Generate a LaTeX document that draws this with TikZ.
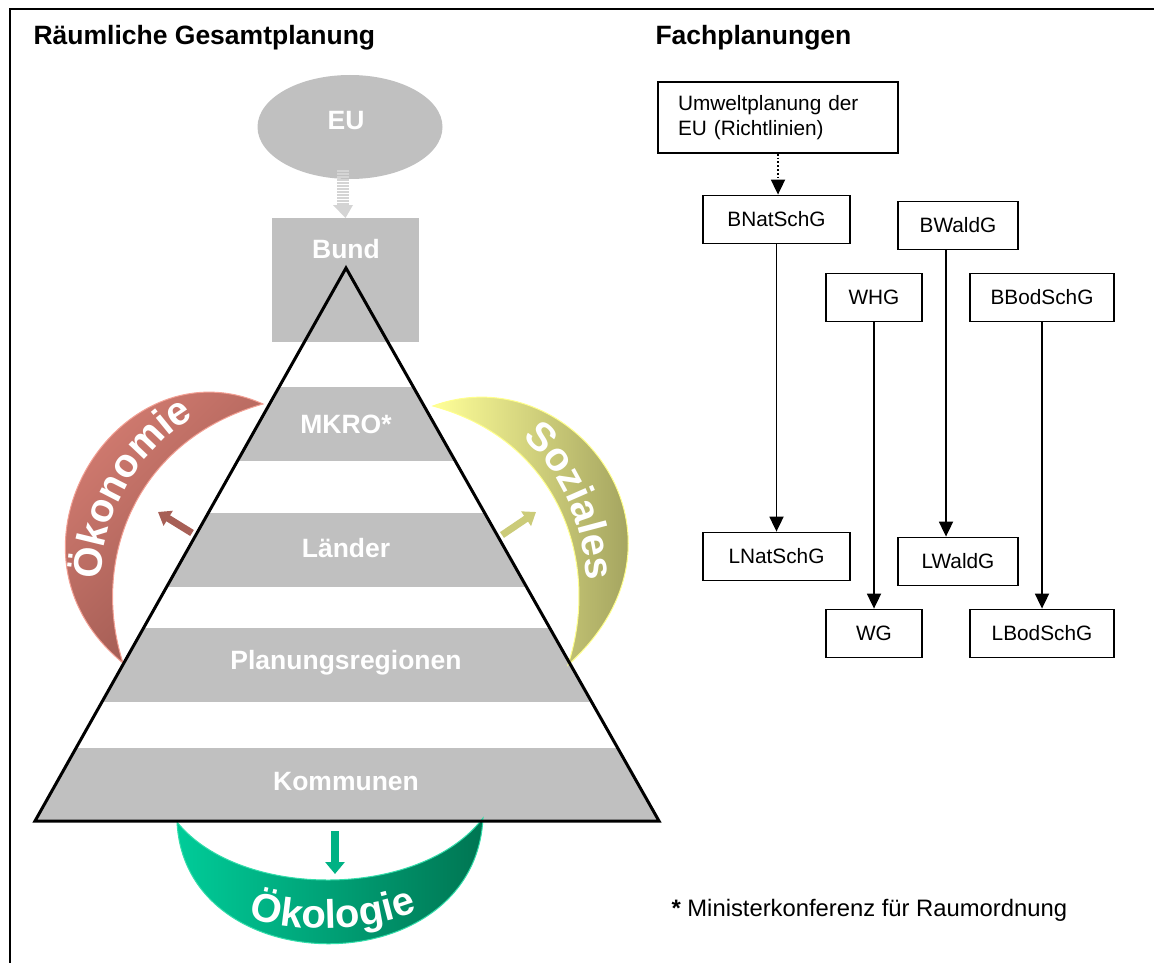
\documentclass[tikz,border=0pt]{standalone}
\usepackage{fontspec}
\setmainfont{Liberation Sans}
\usetikzlibrary{arrows.meta,decorations.text,shapes.geometric}

\definecolor{grau}{HTML}{C0C0C0}
\definecolor{streifgrau}{HTML}{D4D4D4}
\definecolor{oekoHell}{HTML}{E4877B}
\definecolor{oekoDunkel}{HTML}{9C5850}
\definecolor{oekoRand}{HTML}{F2A094}
\definecolor{sozHell}{HTML}{FFFF99}
\definecolor{sozDunkel}{HTML}{7E7E48}
\definecolor{sozRand}{HTML}{FFFF8C}
\definecolor{oekolHell}{HTML}{00CC99}
\definecolor{oekolDunkel}{HTML}{007552}
\definecolor{oekolRand}{HTML}{33DDAA}

\newcommand\bogenfont{\color{white}\bfseries\fontsize{40}{40}\selectfont}

\tikzset{
  gesetz/.style={draw,line width=1.8pt,minimum height=48pt,inner sep=0pt,font=\fontsize{20.8}{25}\selectfont},
  stufe/.style={text=white,font=\bfseries\fontsize{26.5}{30}\selectfont},
  titel/.style={anchor=west,font=\bfseries\fontsize{26.5}{30}\selectfont},
  pfeil/.style={-{Triangle[width=14pt,length=15pt]},line width=1.8pt},
  dickpfeil/.style={line width=7pt,-{Triangle[width=17pt,length=12pt]}},
  bogentext/.style={decorate,decoration={text along path,text align=center,text={|\bogenfont|#1}}},
}

\begin{document}
\begin{tikzpicture}[x=1pt,y=-1pt]
\useasboundingbox (0,0) rectangle (1154,963);
\draw[line width=2.5pt] (10,963)--(10,9)--(1154,9);

\node[titel] (raum) at (30,38) {Räumliche Gesamtplanung};
\node[titel] (fach) at (652,38) {Fachplanungen};

\node[ellipse,fill=grau,minimum width=185pt,minimum height=104pt] (eu) at (350,127) {};
\node[stufe] (eutext) at (346,121) {EU};
\node[fill=grau,minimum width=147pt,minimum height=124pt,anchor=north] (bund) at (345.5,218) {};
\node[stufe] (bundtext) at (346,249) {Bund};
\foreach \y in {171,174,...,204} \draw[streifgrau,line width=2pt] (337,\y)--(349,\y);
\fill[streifgrau] (333,205)--(353,205)--(bund.north)--cycle;

\coordinate (spitze) at (346,268); \coordinate (lu) at (35,821); \coordinate (ru) at (659,821);
\begin{scope}
\clip (spitze)--(lu)--(ru)--cycle;
\foreach \o/\u in {387/461,513/587,628/702,748/821} \fill[grau] (0,\o) rectangle (700,\u);
\end{scope}
\foreach \n/\y/\t in {mkro/424/MKRO*,laender/548/Länder,regionen/663/Planungsregionen,kommunen/782/Kommunen}
  \node[stufe] (\n) at (346,\y) {\t};

\coordinate (oeko1) at (263,404); \coordinate (oeko2) at (123,663);
\shade[top color=oekoHell,bottom color=oekoDunkel,shading angle=45,draw=oekoRand,line width=1pt]
  (oeko1) .. controls (120,340) and (-15,550) .. (oeko2) .. controls (90,560) and (135,440) .. (oeko1) -- cycle;
\coordinate (soz1) at (433,406); \coordinate (soz2) at (568,665);
\shade[left color=sozHell,right color=sozDunkel,draw=sozRand,line width=1pt]
  (soz1) .. controls (570,355) and (712,535) .. (soz2) .. controls (602,560) and (557,440) .. (soz1) -- cycle;
\coordinate (oekol1) at (177,822); \coordinate (oekol2) at (483,818);
\shade[left color=oekolHell,right color=oekolDunkel,draw=oekolRand,line width=1pt]
  (oekol1) .. controls (185,985) and (475,985) .. (oekol2) .. controls (420,900) and (240,900) .. (oekol1) -- cycle;

\path[bogentext=Ökonomie] (105,632) .. controls (82,515) and (152,418) .. (243,398);
\path[bogentext=Soziales] (458,408) .. controls (560,428) and (602,540) .. (582,652);
\path[bogentext=Ökologie] (196,893) .. controls (268,942) and (392,942) .. (468,883);

\coordinate (a1) at (192,533); \coordinate (a2) at (158,512);
\coordinate (b1) at (502,535); \coordinate (b2) at (536,512);
\coordinate (c1) at (335,831); \coordinate (c2) at (335,874);
\draw[dickpfeil,color=oekoDunkel!85!oekoHell] (a1)--(a2);
\draw[dickpfeil,color=sozDunkel!40!sozHell] (b1)--(b2);
\draw[dickpfeil,line width=8pt,-{Triangle[width=19pt,length=12pt]},color=oekolHell!70!oekolDunkel] (c1)--(c2);

\draw[line width=3pt,line join=miter] (spitze)--(lu)--(ru)--cycle;

\node[gesetz,minimum width=240pt,minimum height=71pt,align=left,text width=200pt,inner xsep=20pt] (umwelt) at (778,117.5) {Umweltplanung der\\EU (Richtlinien)};
\foreach \n/\x/\y/\w/\t in {bnat/776.5/219.5/147/BNatSchG,bwald/958/225.5/120/BWaldG,whg/874/297.5/96/WHG,bbod/1042/297.5/144/BBodSchG,
  lnat/776.5/556.5/147/LNatSchG,lwald/958/561.5/120/LWaldG,wg/874/633.5/96/WG,lbod/1042/633.5/144/LBodSchG}
  \node[gesetz,minimum width=\w pt] (\n) at (\x,\y) {\t};
\draw[pfeil,dotted] (umwelt.south)--(umwelt.south |- bnat.north);
\draw[pfeil] (bnat)--(lnat);
\draw[pfeil] ([xshift=-12pt]bwald.south)--([xshift=-12pt]lwald.north);
\draw[pfeil] (whg)--(wg);
\draw[pfeil] (bbod)--(lbod);

\node[anchor=west,font=\fontsize{23.8}{28}\selectfont] (fussnote) at (668,910) {\textbf{*} Ministerkonferenz für Raumordnung};
\end{tikzpicture}
\end{document}
